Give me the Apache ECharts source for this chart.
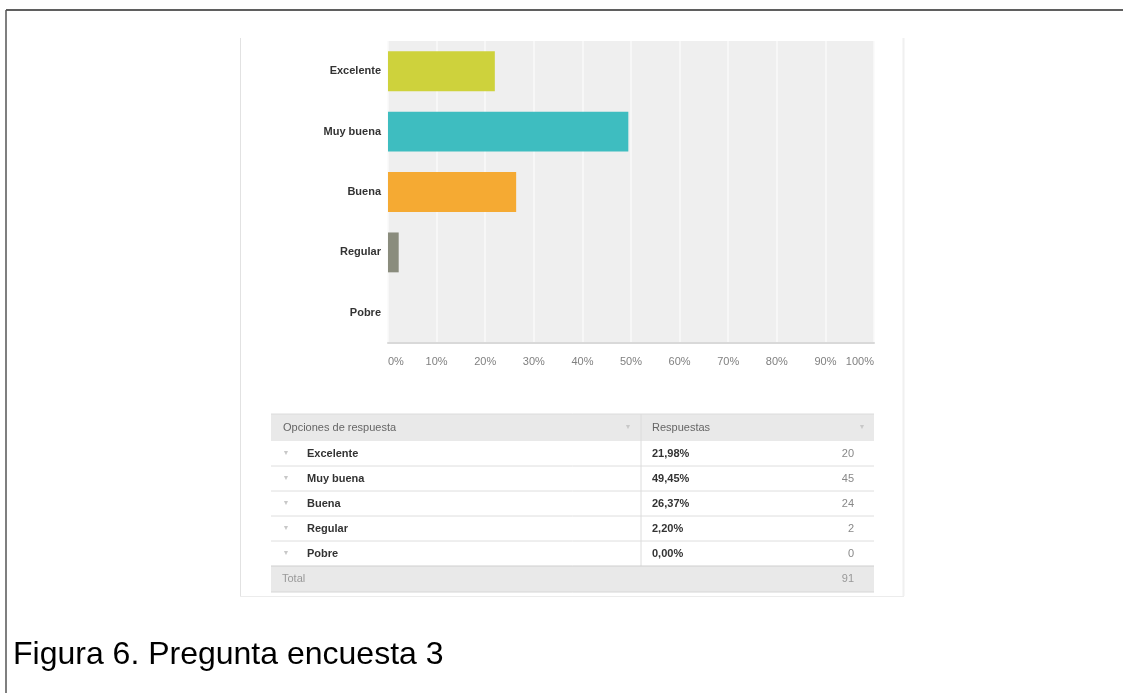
<!DOCTYPE html>
<html>
<head>
<meta charset="utf-8">
<script src="https://cdn.jsdelivr.net/npm/echarts@6/dist/echarts.min.js"></script>
<style>
  html, body { margin: 0; padding: 0; background: #fff; }
  #main { width: 1123px; height: 693px; }
</style>
</head>
<body>
<div id="main"></div>
<script>
/* datos de la pregunta 3 */
const categorias = ['Excelente', 'Muy buena', 'Buena', 'Regular', 'Pobre'];
const porcentajes = [21.98, 49.45, 26.37, 2.20, 0.00];
const respuestas = [20, 45, 24, 2, 0];
const total = 91;
const colores = ['#ced23c', '#3ebdc0', '#f5aa33', '#8a8c7d', '#cccccc'];
const ticks = [0, 10, 20, 30, 40, 50, 60, 70, 80, 90, 100];

const FONT = '"Liberation Sans", Arial, Helvetica, sans-serif';

// tabla de respuestas (dibujada con graphic)
function tablaGraphic(){
    let g = [];
    let x0 = 271, x1 = 874, xCol = 641;
    let yHead = 414, hHead = 27, hRow = 25;
    let yRows = yHead + hHead;
    let yTotal = yRows + hRow * categorias.length;
    let flecha = (x, y) => ({type: 'text', x: x, y: y,
        style: {text: '▼', fill: '#c8c8c8', font: '7px ' + FONT, align: 'center', verticalAlign: 'middle'}});

    // cabecera
    g.push({type: 'rect', shape: {x: x0, y: yHead, width: x1 - x0, height: hHead},
        style: {fill: '#e9e9e9'}});
    g.push({type: 'line', shape: {x1: x0, y1: yHead, x2: x1, y2: yHead},
        style: {stroke: '#dcdcdc', lineWidth: 1}});
    g.push({type: 'text', x: 283, y: yHead + hHead / 2,
        style: {text: 'Opciones de respuesta', fill: '#666', font: '11px ' + FONT, verticalAlign: 'middle'}});
    g.push({type: 'text', x: 652, y: yHead + hHead / 2,
        style: {text: 'Respuestas', fill: '#666', font: '11px ' + FONT, verticalAlign: 'middle'}});
    g.push(flecha(628, yHead + hHead / 2));
    g.push(flecha(862, yHead + hHead / 2));

    // filas
    categorias.forEach((c, i) => {
        let yc = yRows + hRow * i + hRow / 2;
        if (i > 0) {
            g.push({type: 'line', shape: {x1: x0, y1: yRows + hRow * i, x2: x1, y2: yRows + hRow * i},
                style: {stroke: '#dedede', lineWidth: 1}});
        }
        g.push(flecha(286, yc));
        g.push({type: 'text', x: 307, y: yc,
            style: {text: c, fill: '#333', font: 'bold 11px ' + FONT, verticalAlign: 'middle'}});
        g.push({type: 'text', x: 652, y: yc,
            style: {text: porcentajes[i].toFixed(2).replace('.', ',') + '%', fill: '#333',
                font: 'bold 11px ' + FONT, verticalAlign: 'middle'}});
        g.push({type: 'text', x: 854, y: yc,
            style: {text: String(respuestas[i]), fill: '#888', font: '11px ' + FONT,
                align: 'right', verticalAlign: 'middle'}});
    });

    // divisor de columnas
    g.push({type: 'line', shape: {x1: xCol, y1: yHead, x2: xCol, y2: yTotal},
        style: {stroke: '#dcdcdc', lineWidth: 1}});

    // total
    g.push({type: 'rect', shape: {x: x0, y: yTotal, width: x1 - x0, height: 26},
        style: {fill: '#e9e9e9'}});
    g.push({type: 'line', shape: {x1: x0, y1: yTotal, x2: x1, y2: yTotal},
        style: {stroke: '#cfcfcf', lineWidth: 1}});
    g.push({type: 'line', shape: {x1: x0, y1: yTotal + 26, x2: x1, y2: yTotal + 26},
        style: {stroke: '#d6d6d6', lineWidth: 1}});
    g.push({type: 'text', x: 282, y: yTotal + 13,
        style: {text: 'Total', fill: '#999', font: '11px ' + FONT, verticalAlign: 'middle'}});
    g.push({type: 'text', x: 854, y: yTotal + 13,
        style: {text: String(total), fill: '#999', font: '11px ' + FONT, align: 'right', verticalAlign: 'middle'}});
    return g;
}

let marco = [
    // marco exterior
    {type: 'line', shape: {x1: 6, y1: 10, x2: 1123, y2: 10}, style: {stroke: '#2a2a2a', lineWidth: 1.5}},
    {type: 'line', shape: {x1: 6, y1: 10, x2: 6, y2: 693}, style: {stroke: '#555', lineWidth: 1.5}},
    // panel de la captura
    {type: 'line', shape: {x1: 240.5, y1: 38, x2: 240.5, y2: 596}, style: {stroke: '#e2e2e2', lineWidth: 1}},
    {type: 'line', shape: {x1: 240, y1: 596.5, x2: 904, y2: 596.5}, style: {stroke: '#ececec', lineWidth: 1}},
    {type: 'line', shape: {x1: 903.5, y1: 38, x2: 903.5, y2: 596}, style: {stroke: '#f0f0f0', lineWidth: 2}},
    // pie de figura
    {type: 'text', x: 13, y: 655,
        style: {text: 'Figura 6. Pregunta encuesta 3', fill: '#000', font: '32px ' + FONT, verticalAlign: 'middle'}}
];

let option = {
    backgroundColor: '#fff',
    animation: false,
    grid: {
        left: 388, top: 41, width: 486, height: 302,
        show: true, backgroundColor: '#efefef', borderWidth: 0,
        containLabel: false
    },
    xAxis: {
        type: 'value',
        min: ticks[0],
        max: ticks[ticks.length - 1],
        interval: 10,
        axisLine: {show: true, lineStyle: {color: '#d9d9d9', width: 2}},
        axisTick: {show: false},
        splitLine: {show: true, lineStyle: {color: '#fafafa', width: 1.5}},
        axisLabel: {
            formatter: '{value}%',
            color: '#808080',
            fontFamily: FONT,
            fontSize: 11,
            margin: 13,
            alignMinLabel: 'left',
            alignMaxLabel: 'right'
        }
    },
    yAxis: {
        type: 'category',
        data: categorias,
        inverse: true,
        axisLine: {show: false},
        axisTick: {show: false},
        axisLabel: {color: '#333', fontFamily: FONT, fontSize: 11, fontWeight: 'bold', margin: 7}
    },
    series: [{
        type: 'bar',
        data: porcentajes.map((v, i) => ({value: v, itemStyle: {color: colores[i]}})),
        barCategoryGap: '34%',
        silent: true
    }],
    graphic: marco.concat(tablaGraphic())
};

let chart = echarts.init(document.getElementById('main'), null, {renderer: 'canvas'});
chart.setOption(option);
</script>
</body>
</html>
